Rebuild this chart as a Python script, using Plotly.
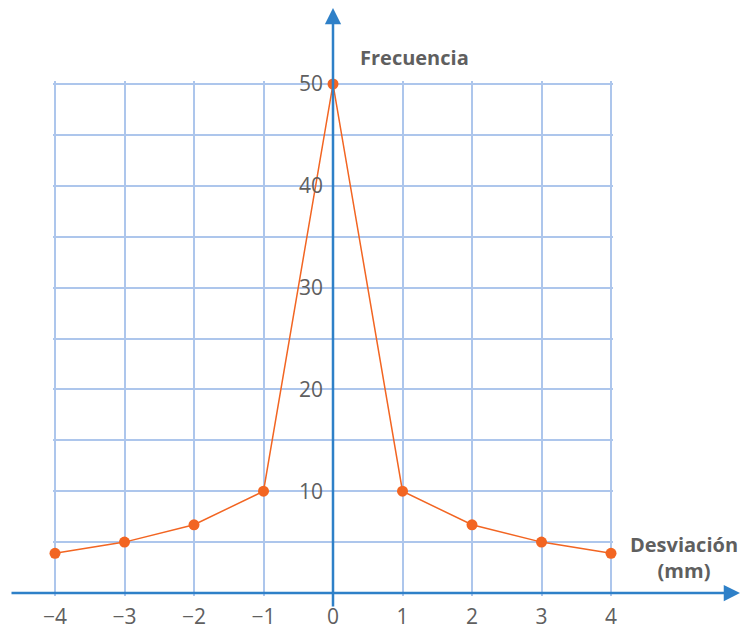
#######################################################################################################################
# Frecuencia vs Desviacion (mm) - line plot with markers
#######################################################################################################################
import plotly.graph_objects as go

#######################################################################################################################
# Data
#######################################################################################################################
desviacion = [-4, -3, -2, -1, 0, 1, 2, 3, 4]
frecuencia = [3.9, 5.0, 6.7, 10.0, 50.0, 10.0, 6.7, 5.0, 3.9]
xTicks = [-4, -3, -2, -1, 0, 1, 2, 3, 4]
xTickText = ['\u22124', '\u22123', '\u22122', '\u22121', '0', '1', '2', '3', '4']
yTicks = [10, 20, 30, 40, 50]

#######################################################################################################################
# Setup
#######################################################################################################################
W, H = 747, 633
colAxis = '#2E80C8'
colGrid = '#ADC6EC'
colLine = '#F26522'
colText = '#5F5F5F'
fontTick = dict(family='Open Sans, Liberation Sans, sans-serif', size=21, color=colText)
fontTitle = dict(family='Open Sans, Liberation Sans, sans-serif', size=20, color=colText)

# pixel layout of the grid region (x=-4..4, y=0..50)
x0Pix, x1Pix = 55, 611
yTopPix, yBotPix = 84, 593
yAxisPix = 333
pad = 0.025
xUnit = (x1Pix - x0Pix) / 8.0
yUnit = (yBotPix - yTopPix) / 50.0
xDom = [(x0Pix - pad * xUnit) / W, (x1Pix + pad * xUnit) / W]
yDom = [(H - yBotPix - 10 * pad * yUnit) / H, (H - yTopPix + 10 * pad * yUnit) / H]

#######################################################################################################################
# Plotting
#######################################################################################################################
fig = go.Figure()
fig.add_trace(go.Scatter(x=desviacion, y=frecuencia, mode='lines+markers',
                         line=dict(color=colLine, width=1.5),
                         marker=dict(color=colLine, size=11),
                         cliponaxis=False, showlegend=False))

# ------------------------------------------
# Axes
# ------------------------------------------
fig.update_xaxes(domain=xDom, range=[-4 - pad, 4 + pad], automargin=False,
                 tickvals=xTicks, ticktext=xTickText, tickfont=fontTick,
                 showgrid=True, gridcolor=colGrid, gridwidth=1.5,
                 zeroline=False, showline=False, ticks='', ticklabelstandoff=6)
fig.update_yaxes(domain=yDom, range=[-10 * pad, 50 + 10 * pad], automargin=False,
                 anchor='free', position=yAxisPix / W,
                 tickvals=yTicks, tickfont=fontTick,
                 showgrid=True, gridcolor=colGrid, gridwidth=1.5,
                 minor=dict(dtick=5, showgrid=True, gridcolor=colGrid, gridwidth=1.5),
                 zeroline=False, showline=False, ticks='', ticklabelstandoff=10)

# ------------------------------------------
# Axis arrows (tail given as pixel offset from tip)
# ------------------------------------------
fig.add_annotation(xref='paper', yref='paper',
                   x=yAxisPix / W, y=(H - 8) / H, ax=0, ay=600,
                   text='', showarrow=True, arrowhead=2, arrowsize=1.3, arrowwidth=2.5, arrowcolor=colAxis)
fig.add_annotation(xref='paper', yref='paper',
                   x=740 / W, y=(H - yBotPix) / H, ax=-730, ay=0,
                   text='', showarrow=True, arrowhead=2, arrowsize=1.3, arrowwidth=2.5, arrowcolor=colAxis)

# ------------------------------------------
# Axis titles
# ------------------------------------------
fig.add_annotation(xref='paper', yref='paper', x=414 / W, y=(H - 58) / H,
                   xanchor='center', yanchor='middle',
                   text='<b>Frecuencia</b>', showarrow=False, font=fontTitle)
fig.add_annotation(xref='paper', yref='paper', x=684 / W, y=(H - 557) / H,
                   xanchor='center', yanchor='middle',
                   text='<b>Desviación<br>(mm)</b>', showarrow=False, font=fontTitle, align='center')

# ==============================================================================
# Layout
# ==============================================================================
fig.update_layout(width=W, height=H, margin=dict(l=0, r=0, t=0, b=0),
                  plot_bgcolor='white', paper_bgcolor='white')

# page body margin removed so the figure sits at the window corner
fig.write_html("out.html", config={'displayModeBar': False},
               post_script="document.body.style.margin='0';")
